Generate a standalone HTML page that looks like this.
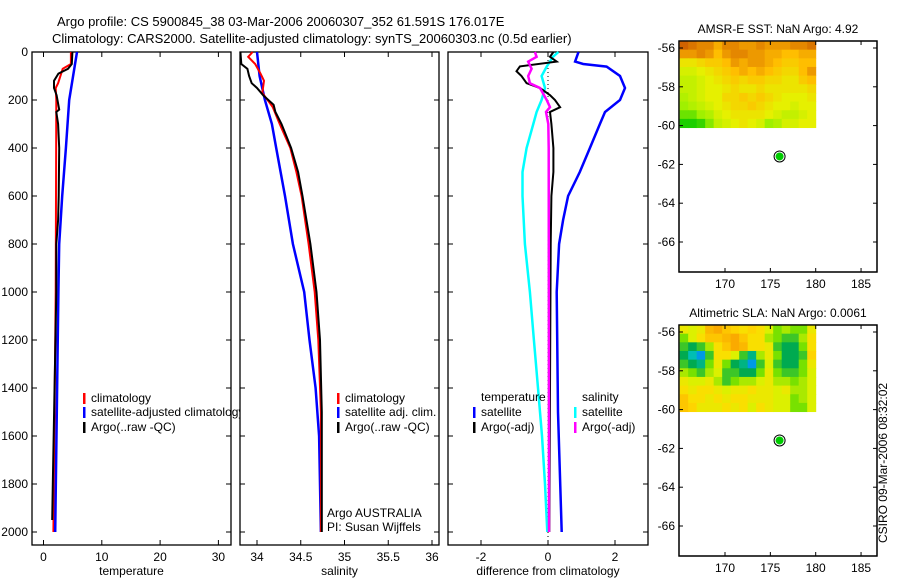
<!DOCTYPE html>
<html><head><meta charset="utf-8">
<style>
html,body{margin:0;padding:0;background:#fff;}
svg text{font-family:"Liberation Sans",sans-serif;font-size:12px;fill:#000;}
</style></head>
<body>
<svg id="fig" width="900" height="580" xmlns="http://www.w3.org/2000/svg">
<text x="57" y="26" style="font-size:13px">Argo profile: CS 5900845_38 03-Mar-2006 20060307_352 61.591S 176.017E</text>
<text x="52" y="43" style="font-size:13px">Climatology: CARS2000. Satellite-adjusted climatology: synTS_20060303.nc (0.5d earlier)</text>
<g id="g1"></g>
<g id="g2"></g>
<g id="g3"></g>
<g id="m1"></g>
<g id="m2"></g>
<text transform="translate(887,463) rotate(-90)" text-anchor="middle">CSIRO 09-Mar-2006 08:32:02</text>
</svg>
<script>
// ---- data ----
const tClimDepth=[0,50,70,130,150,200,1000,2000];
const tClimVal=[4.7,4.7,3.3,2.5,2.1,2.2,2.1,1.7];
const tSatDepth=[0,200,400,600,800,1000,2000];
const tSatVal=[5.75,4.4,3.85,3.2,2.7,2.55,2.0];
const tArgoDepth=[0,50,70,90,120,150,180,240,250,300,400,600,700,800,1000,1800,1950];
const tArgoVal=[4.95,4.85,4.2,2.55,1.8,1.8,2.25,2.7,2.2,2.5,2.7,2.6,2.5,2.2,2.2,1.6,1.5];

const sClimDepth=[0,20,50,90,120,170,230,300,400,500,600,800,1000,1200,1500,2000];
const sClimVal=[33.95,33.9,33.98,34.04,34.08,34.06,34.18,34.26,34.38,34.45,34.51,34.59,34.66,34.7,34.73,34.73];
const sSatDepth=[0,100,200,300,400,600,800,1000,1200,1400,1600,2000];
const sSatVal=[34.0,34.03,34.09,34.17,34.22,34.32,34.41,34.54,34.6,34.67,34.71,34.73];
const sArgoDepth=[0,50,70,100,130,150,180,220,250,300,400,500,600,800,1000,1200,1500,2000];
const sArgoVal=[33.81,33.82,33.89,33.91,33.94,34.0,34.07,34.19,34.21,34.28,34.39,34.47,34.52,34.61,34.68,34.72,34.74,34.74];

const dTSatDepth=[0,40,50,61,100,150,200,250,300,400,500,600,700,800,1000,1500,2000];
const dTSatVal=[0.91,0.81,1.05,1.75,2.15,2.3,2.15,1.7,1.55,1.25,0.95,0.6,0.45,0.33,0.26,0.3,0.41];
const dSSatDepth=[0,20,61,100,150,200,250,300,400,500,600,800,1000,1200,1400,1600,1800,2000];
const dSSatVal=[0.31,0.15,-0.04,-0.19,-0.09,-0.19,-0.34,-0.44,-0.64,-0.76,-0.76,-0.69,-0.54,-0.42,-0.3,-0.18,-0.09,-0.02];
const dSArgoDepth=[0,20,40,70,100,130,150,200,230,250,300,400,2000];
const dSArgoVal=[-0.39,-0.34,-0.59,-0.49,-0.59,-0.54,-0.24,-0.04,0.06,-0.06,0.01,0.02,0.03];
const dTArgoDepth=[0,20,40,60,80,100,130,150,180,200,230,250,300,400,500,600,800,2000];
const dTArgoVal=[0.16,0.06,0.26,-0.84,-0.94,-0.79,-0.64,-0.24,0.06,0.21,0.36,0.06,0.1,0.16,0.16,0.1,0.08,0.04];

const depthTicks=[0,200,400,600,800,1000,1200,1400,1600,1800,2000];
const tempTicks=[0,10,20,30];
const salTicks=[34,34.5,35,35.5,36];
const diffTicks=[-2,0,2];
const latTicks=[-56,-58,-60,-62,-64,-66];
const lonTicks=[170,175,180,185];

const sstGrid=[
[.95,.9,.85,.85,.75,.85,.85,.8,.8,.85,.8,.8,.8,.85,.85,.9],
[.8,.8,.85,.8,.7,.8,.85,.85,.8,.8,.75,.75,.7,.7,.75,.75],
[.55,.55,.6,.65,.65,.7,.8,.75,.8,.8,.75,.7,.65,.65,.7,.7],
[.45,.45,.5,.55,.6,.65,.7,.75,.7,.75,.7,.65,.6,.6,.7,.8],
[.4,.4,.45,.5,.55,.6,.65,.6,.65,.65,.6,.6,.55,.55,.65,.7],
[.4,.4,.45,.5,.5,.55,.6,.55,.55,.6,.55,.55,.55,.55,.55,.6],
[.35,.4,.45,.5,.5,.6,.6,.65,.6,.65,.6,.55,.5,.5,.5,.55],
[.3,.35,.4,.45,.5,.55,.6,.6,.65,.6,.55,.5,.5,.45,.5,.5],
[.2,.2,.3,.35,.45,.5,.55,.55,.55,.55,.5,.45,.4,.4,.45,.5],
[.05,.05,.1,.25,.4,.45,.5,.55,.5,.45,.3,.35,.45,.45,.5,.5]];
const slaGrid=[
[.55,.5,.55,.75,.8,.7,.65,.6,.65,.6,.5,.4,.45,.4,.4,.55],
[.4,.5,.6,.7,.7,.75,.8,.7,.6,.6,.45,.4,.35,.35,.45,.6],
[.35,.3,.35,.45,.6,.7,.8,.75,.6,.6,.55,.35,.3,.3,.4,.6],
[.3,.2,.1,.35,.6,.6,.5,.35,.25,.45,.55,.4,.3,.3,.35,.65],
[.35,.3,.25,.4,.55,.4,.3,.25,.1,.35,.5,.35,.3,.3,.4,.55],
[.45,.4,.35,.45,.5,.35,.35,.3,.3,.4,.55,.4,.35,.35,.4,.5],
[.55,.5,.5,.55,.45,.35,.4,.45,.45,.5,.55,.45,.45,.4,.45,.5],
[.6,.55,.6,.6,.55,.5,.55,.55,.6,.55,.55,.5,.55,.45,.45,.5],
[.7,.6,.6,.55,.6,.55,.6,.6,.55,.55,.55,.5,.5,.4,.45,.5],
[.7,.65,.55,.55,.55,.6,.55,.6,.5,.6,.55,.5,.5,.4,.4,.5]];
const argoLon=176.017, argoLat=-61.591;
const gridLon=[165,180], gridLat=[-55.64,-60.1];

// ---- helpers ----
const NS="http://www.w3.org/2000/svg";
function mk(parent,tag,attrs,text){const e=document.createElementNS(NS,tag);for(const k in attrs)e.setAttribute(k,attrs[k]);if(text!==undefined)e.textContent=text;parent.appendChild(e);return e;}
const top_=52, bot=545;
const yD=d=>52+d*0.24;

function panel(g,x0,x1,xs,ticks,fmt,xlabel,showY){
  const r=mk(g,'rect',{x:x0,y:top_,width:x1-x0,height:bot-top_,fill:'#fff',stroke:'#000','stroke-width':1.3});
  
  depthTicks.forEach(d=>{
    const y=yD(d);
    const a=mk(g,'line',{x1:x0,x2:x0+5,y1:y,y2:y,stroke:'#000'});
    const b=mk(g,'line',{x1:x1-5,x2:x1,y1:y,y2:y,stroke:'#000'});
    if(showY){const t=mk(g,'text',{x:x0-4,y:y+4,'text-anchor':'end'},String(d));}
  });
  ticks.forEach(v=>{
    const x=xs(v);
    const a=mk(g,'line',{x1:x,x2:x,y1:top_,y2:top_+5,stroke:'#000'});
    const b=mk(g,'line',{x1:x,x2:x,y1:bot-5,y2:bot,stroke:'#000'});
    const t=mk(g,'text',{x:x,y:561,'text-anchor':'middle'},fmt(v));
  });
  const l=mk(g,'text',{x:(x0+x1)/2,y:575,'text-anchor':'middle'},xlabel);
}
function series(g,xs,dep,val,color,w,name){
  const pts=dep.map((d,i)=>xs(val[i]).toFixed(1)+','+yD(d).toFixed(1)).join(' ');
  const p=mk(g,'polyline',{points:pts,fill:'none',stroke:color,'stroke-width':w,'stroke-linejoin':'miter'});
  
}
function legend(g,x,y,color,label,name){
  const m=mk(g,'rect',{x:x,y:y-9,width:2.5,height:11,fill:color});
  const t=mk(g,'text',{x:x+8,y:y},label);
}

// Panel 1 temperature
const g1=document.getElementById('g1');
const xT=v=>43.5+v*5.83;
panel(g1,32,231,xT,tempTicks,String,'temperature',true);
series(g1,xT,tClimDepth,tClimVal,'#f00',2,'temp-climatology-line');
series(g1,xT,tSatDepth,tSatVal,'#00f',2.5,'temp-satellite-line');
series(g1,xT,tArgoDepth,tArgoVal,'#000',2,'temp-argo-line');
legend(g1,83,402,'#f00','climatology','legend-climatology');
legend(g1,83,416,'#00f','satellite-adjusted climatology','legend-satellite-adjusted');
legend(g1,83,431,'#000','Argo(..raw -QC)','legend-argo');

// Panel 2 salinity
const g2=document.getElementById('g2');
const xS=v=>257+(v-34)*87.5;
panel(g2,240,439,xS,salTicks,v=>String(v),'salinity',false);
series(g2,xS,sSatDepth,sSatVal,'#00f',2.5,'sal-satellite-line');
series(g2,xS,sClimDepth,sClimVal,'#f00',2,'sal-climatology-line');
series(g2,xS,sArgoDepth,sArgoVal,'#000',2,'sal-argo-line');
legend(g2,337,402,'#f00','climatology','legend-climatology');
legend(g2,337,416,'#00f','satellite adj. clim.','legend-satellite-adj');
legend(g2,337,431,'#000','Argo(..raw -QC)','legend-argo');
const a1=mk(g2,'text',{x:327,y:517},'Argo AUSTRALIA');
const a2=mk(g2,'text',{x:327,y:531},'PI: Susan Wijffels');

// Panel 3 differences
const g3=document.getElementById('g3');
const xDf=v=>548+v*33.5;
panel(g3,448,648,xDf,diffTicks,String,'difference from climatology',false);
const zl=mk(g3,'line',{x1:xDf(0),x2:xDf(0),y1:top_,y2:bot,stroke:'#000','stroke-dasharray':'1,3'});

series(g3,xDf,dTSatDepth,dTSatVal,'#00f',2.5,'temp-satellite-diff-line');
series(g3,xDf,dSSatDepth,dSSatVal,'#0ff',2.5,'sal-satellite-diff-line');
series(g3,xDf,dTArgoDepth,dTArgoVal,'#000',2,'temp-argo-diff-line');
series(g3,xDf,dSArgoDepth,dSArgoVal,'#f0f',2.5,'sal-argo-diff-line');
const lt=mk(g3,'text',{x:481,y:401},'temperature');
const ls=mk(g3,'text',{x:582,y:401},'salinity');
legend(g3,473,416,'#00f','satellite','legend-temp-satellite');
legend(g3,473,431,'#000','Argo(-adj)','legend-temp-argo');
legend(g3,574,416,'#0ff','satellite','legend-sal-satellite');
legend(g3,574,431,'#f0f','Argo(-adj)','legend-sal-argo');

// Maps
function lerp(a,b,t){return a.map((v,i)=>Math.round(v+(b[i]-v)*t));}
function cmap(stops,v){for(let i=0;i<stops.length-1;i++){if(v<=stops[i+1][0]){const t=(v-stops[i][0])/(stops[i+1][0]-stops[i][0]);const c=lerp(stops[i][1],stops[i+1][1],t);return 'rgb('+c.join(',')+')';}}return 'rgb('+stops[stops.length-1][1].join(',')+')';}
const sstStops=[[0,[0,200,0]],[0.3,[160,240,0]],[0.5,[230,240,0]],[0.7,[255,190,0]],[1,[200,80,0]]];
const slaStops=[[0,[0,60,230]],[0.15,[0,200,230]],[0.3,[0,170,80]],[0.4,[120,225,0]],[0.5,[220,240,0]],[0.62,[255,220,0]],[0.8,[250,170,0]],[1,[220,100,0]]];
function map(gid,y0,y1,title,grid,stops){
  const g=document.getElementById(gid);
  const x0=679,x1=877;
  const xL=lon=>725+(lon-170)*9.07;
  const yL=lat=>(y0+7)+(-56-lat)*19.4;
  const f=mk(g,'rect',{x:x0,y:y0,width:x1-x0,height:y1-y0,fill:'#fff',stroke:'#000','stroke-width':1.3});
  
  const gx0=xL(gridLon[0]),gx1=xL(gridLon[1]),gy0=yL(gridLat[0]),gy1=yL(gridLat[1]);
  const rows=grid.length,cols=grid[0].length,cw=(gx1-gx0)/cols,ch=(gy1-gy0)/rows;
  grid.forEach((row,r)=>row.forEach((v,c)=>{
    const cell=mk(g,'rect',{x:gx0+c*cw,y:gy0+r*ch,width:cw+0.5,height:ch+0.5,fill:cmap(stops,v)});
    
  }));
  const f2=mk(g,'rect',{x:x0,y:y0,width:x1-x0,height:y1-y0,fill:'none',stroke:'#000','stroke-width':1.3});
  
  latTicks.forEach(la=>{const y=yL(la);
    const a=mk(g,'line',{x1:x0,x2:x0+4,y1:y,y2:y,stroke:'#000'});
    const b=mk(g,'line',{x1:x1-4,x2:x1,y1:y,y2:y,stroke:'#000'});
    const t=mk(g,'text',{x:x0-4,y:y+4,'text-anchor':'end'},String(la));});
  lonTicks.forEach(lo=>{const x=xL(lo);
    const a=mk(g,'line',{x1:x,x2:x,y1:y0,y2:y0+4,stroke:'#000'});
    const b=mk(g,'line',{x1:x,x2:x,y1:y1-4,y2:y1,stroke:'#000'});
    const t=mk(g,'text',{x:x,y:y1+16,'text-anchor':'middle'},String(lo));});
  const tt=mk(g,'text',{x:(x0+x1)/2,y:y0-8,'text-anchor':'middle'},title);
  const ring=mk(g,'circle',{cx:xL(argoLon),cy:yL(argoLat),r:5.5,fill:'#fff',stroke:'#000','stroke-width':1});
  
  const dot=mk(g,'circle',{cx:xL(argoLon),cy:yL(argoLat),r:4,fill:'#0c0'});
  
}
map('m1',41,272,'AMSR-E SST: NaN Argo: 4.92',sstGrid,sstStops);
map('m2',325,556,'Altimetric SLA: NaN Argo: 0.0061',slaGrid,slaStops);
</script>
</body></html>
